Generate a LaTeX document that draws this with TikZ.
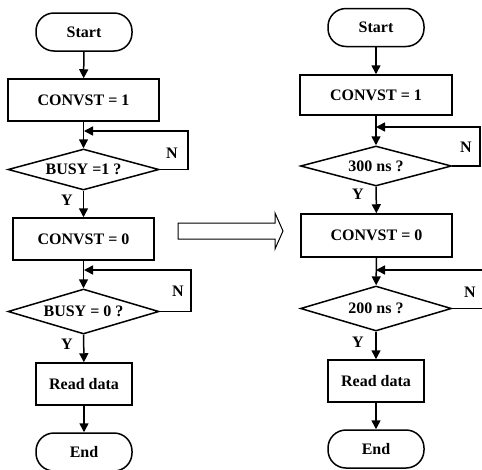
\documentclass[tikz,border=0pt]{standalone}
\usepackage{fontspec}
\setmainfont{Liberation Serif}
\usetikzlibrary{shapes.geometric,arrows.meta}
\begin{document}
\begin{tikzpicture}[x=1pt,y=-1pt,
  every node/.style={font=\fontsize{16}{18}\selectfont\bfseries, inner sep=0pt},
  proc/.style={draw, line width=1.5pt, rectangle},
  term/.style={draw, line width=1.5pt, rectangle, rounded corners=18pt, minimum width=96pt, minimum height=38pt},
  dec/.style={draw, line width=1.5pt, diamond, aspect=3.6, minimum width=151pt},
  arr/.style={line width=1.5pt, -{Triangle[length=9pt,width=9pt]}}
]
\clip (0,0) rectangle (482,469);
% ---------- left flowchart ----------
\node[term] (ls) at (84,32) {Start};
\node[proc, minimum width=151pt, minimum height=42pt] (lb1) at (83.5,100) {CONVST = 1};
\node[dec, minimum height=41pt] (ld1) at (83.5,169.5) {BUSY =1 ?};
\node[proc, minimum width=141pt, minimum height=42pt] (lb2) at (83.5,239) {CONVST = 0};
\node[dec, minimum height=45pt] (ld2) at (83.5,311.5) {BUSY = 0 ?};
\node[proc, minimum width=96pt, minimum height=42pt] (lr) at (84,384) {Read data};
\node[term] (le) at (84,452) {End};
\coordinate (lj1) at (84,131);
\coordinate (lc1) at (188,131);
\coordinate (lj2) at (84,270);
\coordinate (lc2) at (191,270);
\draw[arr] (ls) -- (lb1);
\draw[arr] (lb1) -- (ld1);
\draw[arr] (ld1.east) -| (lc1) -- (lj1);
\draw[arr] (ld1) -- (lb2);
\draw[arr] (lb2) -- (ld2);
\draw[arr] (ld2.east) -| (lc2) -- (lj2);
\draw[arr] (ld2) -- (lr);
\draw[arr] (lr) -- (le);
\node (ln1) at (172,153) {N};
\node (ly1) at (67,200) {Y};
\node (ln2) at (178,291) {N};
\node (ly2) at (67,344) {Y};
% ---------- hollow arrow ----------
\draw[line width=1pt] (178,223) -- (275,223) -- (275,213) -- (283,231) -- (275,249) -- (275,239) -- (178,239) -- cycle;
% ---------- right flowchart ----------
\node[term] (rs) at (376,27.5) {Start};
\node[proc, minimum width=152pt, minimum height=40pt] (rb1) at (376,95) {CONVST = 1};
\node[dec, minimum height=40pt] (rd1) at (376,166) {300 ns ?};
\node[proc, minimum width=151pt, minimum height=43pt] (rb2) at (376.5,235.5) {CONVST = 0};
\node[dec, minimum height=45pt] (rd2) at (376,308.5) {200 ns ?};
\node[proc, minimum width=96pt, minimum height=42pt] (rr) at (376,381) {Read data};
\node[term] (re) at (376,449) {End};
\coordinate (rj1) at (376,127);
\coordinate (rc1) at (480,127);
\coordinate (rj2) at (376,270);
\coordinate (rc2) at (490,270);
\draw[arr] (rs) -- (rb1);
\draw[arr] (rb1) -- (rd1);
\draw[arr] (rd1.east) -| (rc1) -- (rj1);
\draw[arr] (rd1) -- (rb2);
\draw[arr] (rb2) -- (rd2);
\draw[arr] (rd2.east) -| (rc2) -- (rj2);
\draw[arr] (rd2) -- (rr);
\draw[arr] (rr) -- (re);
\node (rn1) at (466,147) {N};
\node (ry1) at (358,194) {Y};
\node (rn2) at (470,292) {N};
\node (ry2) at (358,342) {Y};
\end{tikzpicture}
\end{document}
